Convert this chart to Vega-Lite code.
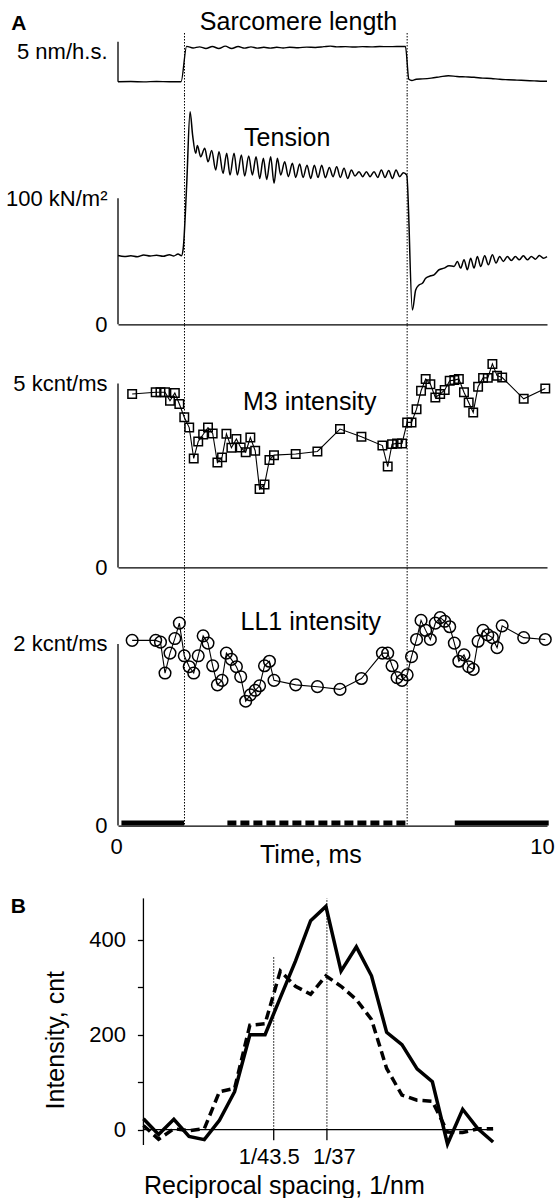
{
"$schema": "https://vega.github.io/schema/vega-lite/v6.json",
"padding": {"left": 5, "top": 9, "right": 0, "bottom": 0},
"background": "white",
"config": {
  "view": {"stroke": null},
  "font": "Liberation Sans",
  "axis": {"labelFont": "Liberation Sans", "titleFont": "Liberation Sans", "labelColor": "black", "titleColor": "black", "labelFontSize": 22, "titleFontSize": 25, "titleFontWeight": "normal", "grid": false, "domainColor": "black", "tickColor": "black", "domainWidth": 1.3, "tickWidth": 1.3, "labelFlush": false, "labelOverlap": false},
  "title": {"font": "Liberation Sans", "fontSize": 25, "fontWeight": "normal", "color": "black", "frame": "group", "baseline": "middle"}
},
"datasets": {
  "sl": [
    {"t": 0, "nm": 0}, {"t": 0.3, "nm": 0.02}, {"t": 0.6, "nm": -0.02}, {"t": 0.9, "nm": 0.03}, {"t": 1.2, "nm": 0}, {"t": 1.47, "nm": 0},
    {"t": 1.6, "nm": 4.42}, {"t": 1.75, "nm": 4.22}, {"t": 1.9, "nm": 4.35}, {"t": 2.05, "nm": 4.15}, {"t": 2.2, "nm": 4.4}, {"t": 2.35, "nm": 4.15},
    {"t": 2.5, "nm": 4.45}, {"t": 2.65, "nm": 4.15}, {"t": 2.8, "nm": 4.4}, {"t": 2.95, "nm": 4.2}, {"t": 3.1, "nm": 4.35}, {"t": 3.25, "nm": 4.2},
    {"t": 3.4, "nm": 4.3}, {"t": 3.55, "nm": 4.2}, {"t": 3.7, "nm": 4.3}, {"t": 3.85, "nm": 4.22}, {"t": 4.0, "nm": 4.3}, {"t": 4.2, "nm": 4.25},
    {"t": 4.4, "nm": 4.32}, {"t": 4.6, "nm": 4.28}, {"t": 4.8, "nm": 4.38}, {"t": 4.95, "nm": 4.45}, {"t": 5.1, "nm": 4.35}, {"t": 5.3, "nm": 4.38},
    {"t": 5.5, "nm": 4.33}, {"t": 5.7, "nm": 4.38}, {"t": 5.9, "nm": 4.35}, {"t": 6.1, "nm": 4.4}, {"t": 6.3, "nm": 4.38}, {"t": 6.5, "nm": 4.4},
    {"t": 6.7, "nm": 4.4},
    {"t": 6.78, "nm": 0.3}, {"t": 6.85, "nm": 0.15}, {"t": 6.95, "nm": 0.3}, {"t": 7.1, "nm": 0.35}, {"t": 7.3, "nm": 0.45}, {"t": 7.5, "nm": 0.6},
    {"t": 7.7, "nm": 0.75}, {"t": 7.9, "nm": 0.65}, {"t": 8.1, "nm": 0.6}, {"t": 8.3, "nm": 0.55}, {"t": 8.5, "nm": 0.45}, {"t": 8.7, "nm": 0.4},
    {"t": 8.9, "nm": 0.3}, {"t": 9.1, "nm": 0.25}, {"t": 9.3, "nm": 0.2}, {"t": 9.5, "nm": 0.15}, {"t": 9.7, "nm": 0.1}, {"t": 9.9, "nm": 0.05}, {"t": 10.0, "nm": 0.05}
  ],
  "ten": [
    {"t": 0.0, "kn": 54.6}, {"t": 0.15, "kn": 53.8}, {"t": 0.3, "kn": 54.4}, {"t": 0.45, "kn": 53.6}, {"t": 0.6, "kn": 55.0}, {"t": 0.75, "kn": 54.2},
    {"t": 0.9, "kn": 54.8}, {"t": 1.05, "kn": 54.0}, {"t": 1.2, "kn": 55.3}, {"t": 1.3, "kn": 54.2}, {"t": 1.4, "kn": 55.8}, {"t": 1.48, "kn": 54.5},
    {"t": 1.52, "kn": 60}, {"t": 1.6, "kn": 110}, {"t": 1.68, "kn": 168.7}, {"t": 1.74, "kn": 150}, {"t": 1.811, "kn": 135.7},
    {"t": 1.85, "kn": 142}, {"t": 1.928, "kn": 133}, {"t": 2.021, "kn": 139.7}, {"t": 2.099, "kn": 129}, {"t": 2.184, "kn": 138},
    {"t": 2.277, "kn": 122.5}, {"t": 2.355, "kn": 137}, {"t": 2.448, "kn": 119.8}, {"t": 2.534, "kn": 135.7}, {"t": 2.611, "kn": 118.5},
    {"t": 2.705, "kn": 135.7}, {"t": 2.783, "kn": 118.5}, {"t": 2.876, "kn": 134.4}, {"t": 2.953, "kn": 117.7}, {"t": 3.047, "kn": 133.6},
    {"t": 3.132, "kn": 118.5}, {"t": 3.218, "kn": 133}, {"t": 3.303, "kn": 115.8}, {"t": 3.389, "kn": 131.7}, {"t": 3.466, "kn": 115},
    {"t": 3.559, "kn": 133}, {"t": 3.637, "kn": 111.9}, {"t": 3.715, "kn": 131.7}, {"t": 3.793, "kn": 118.5}, {"t": 3.886, "kn": 129},
    {"t": 3.971, "kn": 117.2}, {"t": 4.065, "kn": 127.8}, {"t": 4.142, "kn": 116.6}, {"t": 4.235, "kn": 127.2}, {"t": 4.313, "kn": 116.6},
    {"t": 4.406, "kn": 126.3}, {"t": 4.492, "kn": 115.8}, {"t": 4.577, "kn": 126.3}, {"t": 4.663, "kn": 116.6}, {"t": 4.748, "kn": 126.3},
    {"t": 4.834, "kn": 116.4}, {"t": 4.927, "kn": 124.5}, {"t": 5.012, "kn": 117.2}, {"t": 5.098, "kn": 125}, {"t": 5.183, "kn": 116.6},
    {"t": 5.269, "kn": 123.8}, {"t": 5.354, "kn": 115.8}, {"t": 5.44, "kn": 122.5}, {"t": 5.525, "kn": 117.7}, {"t": 5.618, "kn": 121.1},
    {"t": 5.704, "kn": 117.2}, {"t": 5.79, "kn": 121.1}, {"t": 5.875, "kn": 117.2}, {"t": 5.968, "kn": 121.1}, {"t": 6.054, "kn": 116.6},
    {"t": 6.139, "kn": 122.5}, {"t": 6.224, "kn": 116.6}, {"t": 6.31, "kn": 122}, {"t": 6.396, "kn": 115.8}, {"t": 6.481, "kn": 122.5},
    {"t": 6.566, "kn": 117.2}, {"t": 6.652, "kn": 120.3}, {"t": 6.73, "kn": 118.5},
    {"t": 6.862, "kn": 11.3}, {"t": 6.939, "kn": 27.2}, {"t": 7.017, "kn": 31.2}, {"t": 7.095, "kn": 32.6}, {"t": 7.172, "kn": 36.5},
    {"t": 7.289, "kn": 38.5}, {"t": 7.367, "kn": 39.3}, {"t": 7.483, "kn": 43.3}, {"t": 7.6, "kn": 44.6}, {"t": 7.716, "kn": 46.5},
    {"t": 7.833, "kn": 45.9}, {"t": 7.911, "kn": 49.9}, {"t": 7.988, "kn": 44.6}, {"t": 8.066, "kn": 51.2}, {"t": 8.144, "kn": 43.3},
    {"t": 8.221, "kn": 52.5}, {"t": 8.299, "kn": 44.6}, {"t": 8.377, "kn": 53.8}, {"t": 8.455, "kn": 45.9}, {"t": 8.548, "kn": 54.4},
    {"t": 8.633, "kn": 47.3}, {"t": 8.727, "kn": 55.2}, {"t": 8.812, "kn": 48.6}, {"t": 8.897, "kn": 53.8}, {"t": 8.983, "kn": 49.9},
    {"t": 9.076, "kn": 53.8}, {"t": 9.169, "kn": 50.6}, {"t": 9.263, "kn": 53.8}, {"t": 9.356, "kn": 51.2}, {"t": 9.449, "kn": 54.4},
    {"t": 9.542, "kn": 51.2}, {"t": 9.636, "kn": 53.8}, {"t": 9.729, "kn": 51.7}, {"t": 9.822, "kn": 54.6}, {"t": 9.915, "kn": 52.5}, {"t": 10.0, "kn": 53.8}
  ],
  "xr": [
    {"t": 0.33, "m3": 4.71, "ll1": 2.04}, {"t": 0.879, "m3": 4.76, "ll1": 2.04}, {"t": 0.99, "m3": 4.76, "ll1": 2.02}, {"t": 1.096, "m3": 4.76, "ll1": 1.68},
    {"t": 1.212, "m3": 4.53, "ll1": 1.9}, {"t": 1.325, "m3": 4.74, "ll1": 2.06}, {"t": 1.43, "m3": 4.44, "ll1": 2.23}, {"t": 1.545, "m3": 4.08, "ll1": 1.87},
    {"t": 1.66, "m3": 3.8, "ll1": 1.75}, {"t": 1.765, "m3": 2.96, "ll1": 1.68}, {"t": 1.87, "m3": 3.42, "ll1": 1.87}, {"t": 1.985, "m3": 3.61, "ll1": 2.09},
    {"t": 2.098, "m3": 3.8, "ll1": 2.01}, {"t": 2.207, "m3": 3.64, "ll1": 1.76}, {"t": 2.317, "m3": 2.85, "ll1": 1.55}, {"t": 2.425, "m3": 2.99, "ll1": 1.6},
    {"t": 2.527, "m3": 3.63, "ll1": 1.9}, {"t": 2.643, "m3": 3.25, "ll1": 1.83}, {"t": 2.76, "m3": 3.49, "ll1": 1.75}, {"t": 2.86, "m3": 3.26, "ll1": 1.64},
    {"t": 2.977, "m3": 3.13, "ll1": 1.37}, {"t": 3.085, "m3": 3.53, "ll1": 1.44}, {"t": 3.198, "m3": 3.17, "ll1": 1.49}, {"t": 3.3, "m3": 2.13, "ll1": 1.54},
    {"t": 3.415, "m3": 2.25, "ll1": 1.76}, {"t": 3.53, "m3": 2.92, "ll1": 1.81}, {"t": 3.636, "m3": 3.05, "ll1": 1.6}, {"t": 4.142, "m3": 3.08, "ll1": 1.55},
    {"t": 4.648, "m3": 3.15, "ll1": 1.53}, {"t": 5.175, "m3": 3.76, "ll1": 1.5}, {"t": 5.674, "m3": 3.55, "ll1": 1.62}, {"t": 6.163, "m3": 3.31, "ll1": 1.9},
    {"t": 6.287, "m3": 2.74, "ll1": 1.9}, {"t": 6.388, "m3": 3.35, "ll1": 1.76}, {"t": 6.505, "m3": 3.37, "ll1": 1.63}, {"t": 6.621, "m3": 3.37, "ll1": 1.6},
    {"t": 6.74, "m3": 3.94, "ll1": 1.66}, {"t": 6.842, "m3": 3.94, "ll1": 1.86}, {"t": 6.959, "m3": 4.3, "ll1": 2.05}, {"t": 7.064, "m3": 4.8, "ll1": 2.26},
    {"t": 7.172, "m3": 5.12, "ll1": 2.15}, {"t": 7.281, "m3": 4.98, "ll1": 2.05}, {"t": 7.397, "m3": 4.62, "ll1": 2.23}, {"t": 7.51, "m3": 4.71, "ll1": 2.29},
    {"t": 7.615, "m3": 4.82, "ll1": 2.25}, {"t": 7.732, "m3": 5.07, "ll1": 2.19}, {"t": 7.84, "m3": 5.09, "ll1": 2.01}, {"t": 7.945, "m3": 5.12, "ll1": 1.81},
    {"t": 8.065, "m3": 4.76, "ll1": 1.88}, {"t": 8.175, "m3": 4.48, "ll1": 1.75}, {"t": 8.28, "m3": 4.21, "ll1": 1.72}, {"t": 8.394, "m3": 4.91, "ll1": 2.03},
    {"t": 8.51, "m3": 5.15, "ll1": 2.15}, {"t": 8.62, "m3": 5.15, "ll1": 2.1}, {"t": 8.727, "m3": 5.53, "ll1": 2.07}, {"t": 8.836, "m3": 5.21, "ll1": 1.96},
    {"t": 8.955, "m3": 5.16, "ll1": 2.2}, {"t": 9.457, "m3": 4.58, "ll1": 2.07}, {"t": 9.96, "m3": 4.86, "ll1": 2.05}
  ],
  "ev": [{"t": 1.55}, {"t": 6.74}],
  "expo": [
    {"t0": 0.08, "t1": 1.54, "kind": "solid"},
    {"t0": 2.55, "t1": 6.73, "kind": "dashed"},
    {"t0": 7.85, "t1": 10.04, "kind": "solid"}
  ],
  "prof": [
    {"s": 0.0131, "solid": 23, "dashed": 9}, {"s": 0.01425, "solid": -10, "dashed": -20}, {"s": 0.01541, "solid": 22, "dashed": 2},
    {"s": 0.01656, "solid": -14, "dashed": -2}, {"s": 0.01772, "solid": -21, "dashed": 2}, {"s": 0.01887, "solid": 20, "dashed": 80},
    {"s": 0.02002, "solid": 80, "dashed": 87}, {"s": 0.02118, "solid": 200, "dashed": 220}, {"s": 0.02233, "solid": 200, "dashed": 223},
    {"s": 0.02349, "solid": 278, "dashed": 334}, {"s": 0.02464, "solid": 355, "dashed": 302}, {"s": 0.02579, "solid": 440, "dashed": 285},
    {"s": 0.02695, "solid": 470, "dashed": 324}, {"s": 0.0281, "solid": 334, "dashed": 302}, {"s": 0.02926, "solid": 385, "dashed": 274},
    {"s": 0.03041, "solid": 324, "dashed": 232}, {"s": 0.03156, "solid": 205, "dashed": 129}, {"s": 0.03272, "solid": 179, "dashed": 73},
    {"s": 0.03387, "solid": 128, "dashed": 62}, {"s": 0.03503, "solid": 101, "dashed": 60}, {"s": 0.03618, "solid": -30, "dashed": -5},
    {"s": 0.03733, "solid": 43, "dashed": -6}, {"s": 0.03849, "solid": 2, "dashed": 2}, {"s": 0.03964, "solid": -26, "dashed": 2}
  ],
  "mk": [{"s": 0.022989, "top": 364, "base": 0, "tick": -22}, {"s": 0.027027, "top": 487, "base": 0, "tick": -22}],
  "baxis": [{"s_lo": 0.0131, "s_hi": 0.03964, "i_lo": -32.2, "i_hi": 487, "zero": 0}]
},
"spacing": 0,
"bounds": "flush",
"vconcat": [
  {
    "width": 429, "height": 62,
    "layer": [
      {"data": {"name": "sl"}, "mark": {"type": "line", "color": "black", "strokeWidth": 1.4, "interpolate": "monotone"},
       "encoding": {
         "x": {"field": "t", "type": "quantitative", "scale": {"domain": [0, 10], "nice": false},
               "axis": {"orient": "top", "domain": false, "labels": false, "ticks": false, "title": "Sarcomere length", "titleX": 180, "titleY": -12, "titleAlign": "center", "titleBaseline": "middle"}},
         "y": {"field": "nm", "type": "quantitative", "scale": {"domain": [-1.6625, 6.0875], "nice": false, "zero": false},
               "axis": {"values": [5], "labelExpr": "'5 nm/h.s.'", "domain": false, "ticks": false, "labelPadding": 11, "labelBaseline": "top",
                        "title": "A", "titleAngle": 0, "titleX": -99.6, "titleY": -10, "titleAlign": "center", "titleBaseline": "middle", "titleFontWeight": "bold", "titleFontSize": 21}}
       }},
      {"data": {"values": [{"t": 0, "nm": 0, "nm_top": 5}]}, "mark": {"type": "rule", "color": "black", "strokeWidth": 1.3},
       "encoding": {"x": {"field": "t", "type": "quantitative"}, "y": {"field": "nm", "type": "quantitative"}, "y2": {"field": "nm_top"}}},
      {"data": {"name": "ev"}, "mark": {"type": "rule", "color": "black", "strokeWidth": 1, "strokeDash": [1.5, 1.5]},
       "encoding": {"x": {"field": "t", "type": "quantitative"}}}
    ]
  },
  {
    "width": 429, "height": 229.3,
    "title": {"text": "Tension", "anchor": "middle", "dx": -45.3, "offset": -56},
    "layer": [
      {"data": {"name": "ten"}, "mark": {"type": "line", "color": "black", "strokeWidth": 1.5, "interpolate": "monotone"},
       "encoding": {
         "x": {"field": "t", "type": "quantitative", "scale": {"domain": [0, 10], "nice": false},
               "axis": {"domain": true, "labels": false, "ticks": false, "title": null}},
         "y": {"field": "kn", "type": "quantitative", "scale": {"domain": [0, 182], "nice": false},
               "axis": {"values": [0, 100], "labelExpr": "datum.value === 0 ? '0' : '100 kN/m²'", "domain": false, "ticks": false, "labelPadding": 11, "title": null}}
       }},
      {"data": {"values": [{"t": 0, "kn": 0, "kn_top": 100}]}, "mark": {"type": "rule", "color": "black", "strokeWidth": 1.3},
       "encoding": {"x": {"field": "t", "type": "quantitative"}, "y": {"field": "kn", "type": "quantitative"}, "y2": {"field": "kn_top"}}},
      {"data": {"name": "ev"}, "mark": {"type": "rule", "color": "black", "strokeWidth": 1, "strokeDash": [1.5, 1.5]},
       "encoding": {"x": {"field": "t", "type": "quantitative"}}}
    ]
  },
  {
    "width": 429, "height": 242.4,
    "title": {"text": "M3 intensity", "anchor": "middle", "dx": -22.8, "offset": -90},
    "layer": [
      {"data": {"name": "xr"}, "mark": {"type": "line", "color": "black", "strokeWidth": 1.1},
       "encoding": {
         "x": {"field": "t", "type": "quantitative", "scale": {"domain": [0, 10], "nice": false},
               "axis": {"domain": true, "labels": false, "ticks": false, "title": null}},
         "y": {"field": "m3", "type": "quantitative", "scale": {"domain": [0, 6.587], "nice": false},
               "axis": {"values": [0, 5], "labelExpr": "datum.value === 0 ? '0' : '5 kcnt/ms'", "domain": false, "ticks": false, "labelPadding": 11, "title": null}}
       }},
      {"data": {"name": "xr"}, "mark": {"type": "point", "shape": "square", "size": 72, "filled": false, "color": "black", "strokeWidth": 1.5, "opacity": 1},
       "encoding": {"x": {"field": "t", "type": "quantitative"}, "y": {"field": "m3", "type": "quantitative"}}},
      {"data": {"values": [{"t": 0, "m3": 0, "m3_top": 5}]}, "mark": {"type": "rule", "color": "black", "strokeWidth": 1.3},
       "encoding": {"x": {"field": "t", "type": "quantitative"}, "y": {"field": "m3", "type": "quantitative"}, "y2": {"field": "m3_top"}}},
      {"data": {"name": "ev"}, "mark": {"type": "rule", "color": "black", "strokeWidth": 1, "strokeDash": [1.5, 1.5]},
       "encoding": {"x": {"field": "t", "type": "quantitative"}}}
    ]
  },
  {
    "width": 429, "height": 257.6,
    "title": {"text": "LL1 intensity", "anchor": "middle", "dx": -21.8, "offset": -67.5},
    "layer": [
      {"data": {"name": "xr"}, "mark": {"type": "line", "color": "black", "strokeWidth": 1.1},
       "encoding": {
         "x": {"field": "t", "type": "quantitative", "scale": {"domain": [0, 10], "nice": false},
               "axis": {"values": [0, 10], "domain": true, "labels": true, "ticks": false, "labelPadding": 11,
                        "labelOffset": {"condition": {"test": "datum.value > 5", "value": -5}, "value": -2},
                        "title": "Time, ms", "titleX": 192.4, "titleY": 28.5, "titleAlign": "center", "titleBaseline": "middle"}},
         "y": {"field": "ll1", "type": "quantitative", "scale": {"domain": [0, 2.837], "nice": false},
               "axis": {"values": [0, 2], "labelExpr": "datum.value === 0 ? '0' : '2 kcnt/ms'", "domain": false, "ticks": false, "labelPadding": 11, "title": null}}
       }},
      {"data": {"name": "xr"}, "mark": {"type": "point", "shape": "circle", "size": 135, "filled": false, "color": "black", "strokeWidth": 1.5, "opacity": 1},
       "encoding": {"x": {"field": "t", "type": "quantitative"}, "y": {"field": "ll1", "type": "quantitative"}}},
      {"data": {"values": [{"t": 0, "ll1": 0, "ll1_top": 2}]}, "mark": {"type": "rule", "color": "black", "strokeWidth": 1.3},
       "encoding": {"x": {"field": "t", "type": "quantitative"}, "y": {"field": "ll1", "type": "quantitative"}, "y2": {"field": "ll1_top"}}},
      {"data": {"name": "ev"}, "mark": {"type": "rule", "color": "black", "strokeWidth": 1, "strokeDash": [1.5, 1.5]},
       "encoding": {"x": {"field": "t", "type": "quantitative"}}},
      {"data": {"name": "expo"}, "transform": [{"filter": "datum.kind === 'solid'"}],
       "mark": {"type": "rule", "color": "black", "strokeWidth": 5, "strokeCap": "butt"},
       "encoding": {"x": {"field": "t0", "type": "quantitative"}, "x2": {"field": "t1"}, "y": {"datum": 0.028, "type": "quantitative"}}},
      {"data": {"name": "expo"}, "transform": [{"filter": "datum.kind === 'dashed'"}],
       "mark": {"type": "rule", "color": "black", "strokeWidth": 5, "strokeCap": "butt", "strokeDash": [9, 4]},
       "encoding": {"x": {"field": "t0", "type": "quantitative"}, "x2": {"field": "t1"}, "y": {"datum": 0.028, "type": "quantitative"}}}
    ]
  },
  {
    "width": 378, "height": 319,
    "title": {"text": "B", "anchor": "start", "align": "center", "dx": -99.6, "offset": -91, "fontWeight": "bold", "fontSize": 21},
    "layer": [
      {"data": {"name": "prof"}, "mark": {"type": "line", "color": "black", "strokeWidth": 3.5, "strokeJoin": "miter"},
       "encoding": {
         "x": {"field": "s", "type": "quantitative", "scale": {"domain": [0.01117, 0.03986], "nice": false, "zero": false},
               "axis": {"values": [0.022989, 0.027027], "labelExpr": "datum.value < 0.025 ? '1/43.5' : '1/37'", "domain": false, "ticks": false, "labelPadding": 1,
                        "labelOffset": {"condition": {"test": "datum.value < 0.025", "value": -5}, "value": 7},
                        "title": "Reciprocal spacing, 1/nm", "titleX": 165.9, "titleY": 40, "titleAlign": "center", "titleBaseline": "middle"}},
         "y": {"field": "solid", "type": "quantitative", "scale": {"domain": [-32.2, 639.4], "nice": false, "zero": false},
               "axis": {"values": [0, 100, 200, 300, 400], "labelExpr": "datum.value % 200 === 0 ? datum.label : ''", "offset": -25.4, "domain": false, "ticks": true, "tickSize": 6, "labelPadding": 12,
                        "title": "Intensity, cnt", "titleX": -87.8, "titleY": 213.7, "titleAlign": "center", "titleBaseline": "middle", "titleAngle": -90}}
       }},
      {"data": {"name": "prof"}, "mark": {"type": "line", "color": "black", "strokeWidth": 3.5, "strokeDash": [9, 5], "strokeJoin": "miter"},
       "encoding": {"x": {"field": "s", "type": "quantitative"}, "y": {"field": "dashed", "type": "quantitative"}}},
      {"data": {"name": "baxis"}, "mark": {"type": "rule", "color": "black", "strokeWidth": 1.3},
       "encoding": {"x": {"field": "s_lo", "type": "quantitative"}, "x2": {"field": "s_hi"}, "y": {"field": "zero", "type": "quantitative"}}},
      {"data": {"name": "baxis"}, "mark": {"type": "rule", "color": "black", "strokeWidth": 1.3},
       "encoding": {"x": {"field": "s_lo", "type": "quantitative"}, "y": {"field": "i_lo", "type": "quantitative"}, "y2": {"field": "i_hi"}}},
      {"data": {"name": "mk"}, "mark": {"type": "rule", "color": "black", "strokeWidth": 1, "strokeDash": [1.5, 1.5]},
       "encoding": {"x": {"field": "s", "type": "quantitative"}, "y": {"field": "base", "type": "quantitative"}, "y2": {"field": "top"}}},
      {"data": {"name": "mk"}, "mark": {"type": "rule", "color": "black", "strokeWidth": 1.3},
       "encoding": {"x": {"field": "s", "type": "quantitative"}, "y": {"field": "base", "type": "quantitative"}, "y2": {"field": "tick"}}}
    ]
  }
]
}
